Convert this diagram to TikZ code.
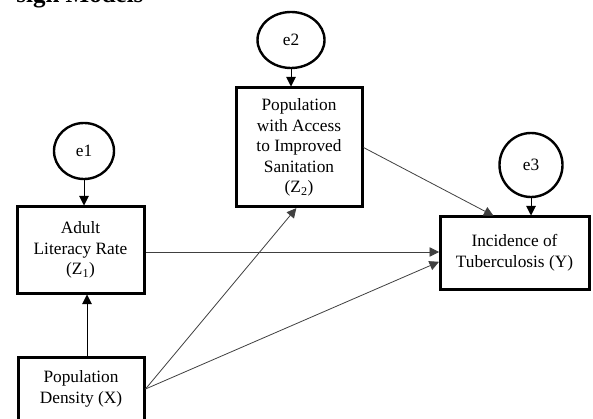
\documentclass[tikz,border=0pt]{standalone}
\usepackage{fontspec}
\setmainfont{Liberation Serif}
\usetikzlibrary{arrows.meta,calc,shapes.geometric}
\begin{document}
\begin{tikzpicture}[x=1pt,y=-1pt,
  box/.style={draw=black, line width=3pt, rectangle, align=center, inner sep=0pt,
    font=\fontsize{17.3}{20.5}\selectfont},
  err/.style={draw=black, line width=2.4pt, ellipse, inner sep=0pt,
    font=\fontsize{17.3}{20.5}\selectfont},
  sarr/.style={draw=black, line width=1pt, -{Triangle[length=9.5pt,width=9.5pt]}},
  larr/.style={draw=black!75, line width=0.8pt, -{Triangle[length=9.5pt,width=9.5pt]}, shorten >=-0.5pt}
]
\useasboundingbox (0,0) rectangle (593,419);
\fill[white] (0,0) rectangle (593,419);
\node[anchor=base east, font=\bfseries\fontsize{25}{28}\selectfont] (title) at (147,2.5) {sign Models};

\node[err, minimum width=60pt, minimum height=56pt] (e1) at (84,151) {e1};
\node[err, minimum width=67pt, minimum height=56pt] (e2) at (291,40) {e2};
\node[err, minimum width=63pt, minimum height=64pt] (e3) at (531,165) {e3};

\node[box, minimum width=127pt, minimum height=86pt] (Z1) at (80.5,250) {Adult\\Literacy Rate\\(Z\textsubscript{1})};
\node[box, minimum width=126pt, minimum height=64pt] (X) at (81,389) {Population\\Density (X)};
\node[box, minimum width=126pt, minimum height=119pt] (Z2) at (299,147.5) {Population\\with Access\\to Improved\\Sanitation\\(Z\textsubscript{2})};
\node[box, minimum width=149pt, minimum height=72pt] (Y) at (514.5,253) {Incidence of\\Tuberculosis (Y)};

\draw[sarr] (e1.south) -- (e1.south |- Z1.north);
\draw[sarr] (e2.south) -- (e2.south |- Z2.north);
\draw[sarr] (e3.south) -- (e3.south |- Y.north);
\draw[sarr] ([xshift=6pt]X.north) -- ([xshift=6pt]X.north |- Z1.south);

\draw[larr] ([yshift=-2pt]Z1.east) -- ([yshift=-2pt]Z1.east -| Y.west);
\draw[larr] (X.east) -- ([yshift=-9pt]Y.west);
\draw[larr] (X.east) -- ([xshift=-3pt]Z2.south);
\draw[larr] (Z2.east) -- ([xshift=-21.5pt]Y.north);
\end{tikzpicture}
\end{document}
